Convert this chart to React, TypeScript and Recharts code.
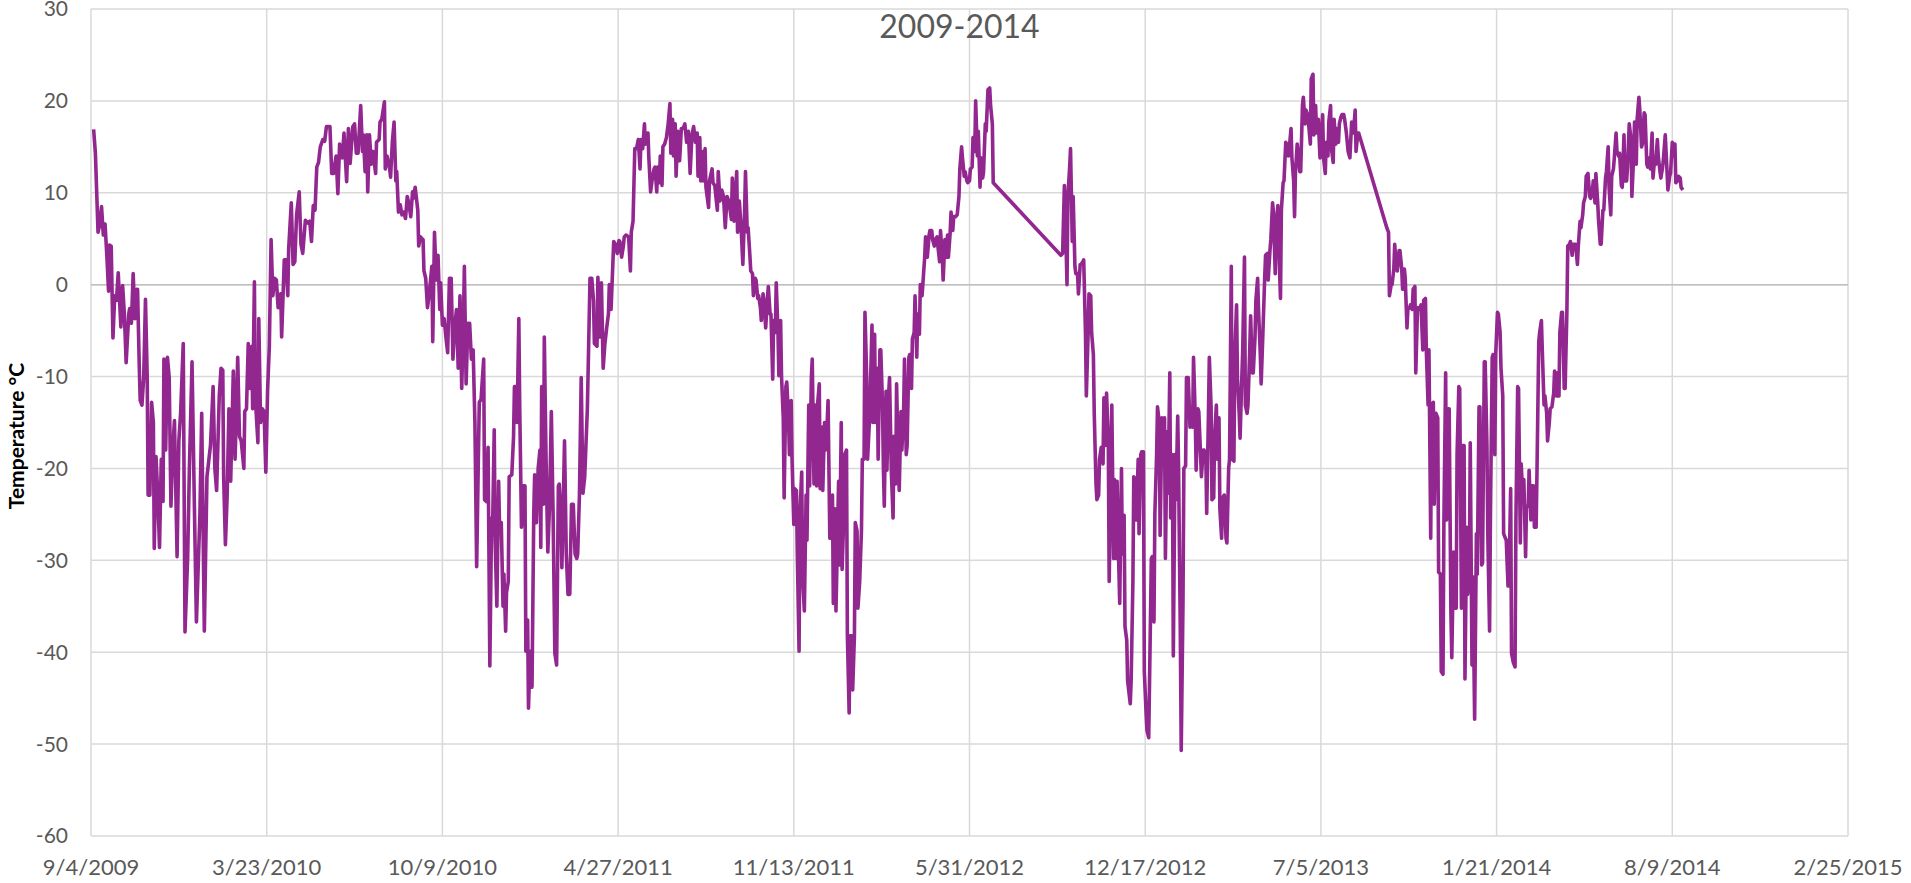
import React from "react";
import {
  LineChart,
  Line,
  XAxis,
  YAxis,
  CartesianGrid,
  ReferenceLine,
} from "recharts";

// day offsets from 9/4/2009, daily temperature in °C
const fall2009: [number, number][] = [
  [3, 16.9], [5, 14.3], [8, 5.7], [10, 6.6], [12, 8.5], [14, 5.4], [16, 6.6], [18, 3.2], [20, -0.7], [21, 4.3],
  [23, 4.2], [25, -5.8], [27, -1.2], [29, -1.7], [31, 1.3], [34, -4.6], [36, -0.1], [38, -3.2], [40, -8.5], [43, -3.2],
  [44, -2.6], [46, -4.2], [48, 1.2], [50, -3.7], [52, -0.5], [53, -0.5], [55, -9.1], [56, -12.6], [58, -13.1], [60, -10.1],
  [62, -1.6], [64, -10.1], [65, -22.9], [67, -22.9], [69, -12.8], [71, -15], [72, -28.7], [74, -18.7], [76, -22.9], [78, -28.6],
  [80, -19], [82, -23.6], [83, -8.1], [85, -18], [87, -7.9], [89, -10.1], [91, -24.1], [93, -18], [95, -14.8], [98, -29.6],
  [100, -17], [102, -14], [105, -6.4], [107, -37.8], [110, -29.8], [112, -20], [115, -8.4], [118, -25.9], [120, -36.7], [124, -24.9],
  [126, -14], [129, -37.7], [132, -20.9], [134, -19.2], [136, -17.5], [139, -11.1], [141, -20], [143, -22.4], [146, -12.1], [148, -9.1],
  [150, -9.3], [151, -20.9], [153, -28.3], [155, -22.9], [157, -13.5], [159, -21.4], [162, -9.4], [164, -19], [165, -15.5], [167, -7.9],
  [169, -16.5], [171, -17], [174, -20], [175, -13.8], [177, -13.5], [179, -6.4], [181, -11.3], [183, -6.7], [184, -13.5], [186, 0.3],
  [187, -12.3], [190, -17.2], [191, -3.7], [193, -15], [195, -13.5], [197, -13.8], [199, -20.4], [201, -11.6], [203, -6.7], [205, 4.9],
  [207, -1.2], [209, 0.7], [211, 0.5], [213, -2.5], [216, -1], [217, -5.7], [220, 2.7], [222, 2.7], [224, -1.2], [225, 3.9],
  [228, 8.9], [230, 2.2], [232, 2.5], [234, 7.6], [237, 10.1], [239, 4.4], [241, 3.4], [244, 7], [247, 6.7], [249, 6.9],
  [251, 4.7], [253, 8.6], [255, 8.1], [257, 12.8], [259, 13.3], [261, 15], [264, 15.8], [266, 15.6], [268, 17.2], [272, 17.2],
  [274, 12.1], [276, 12.1], [279, 14], [281, 9.9], [283, 15.3], [286, 13.8], [288, 16.5], [291, 11.2], [293, 17], [295, 13.2],
  [298, 17.2],
];

const year2010: [number, number][] = [
  [300, 17.5], [302, 14.3], [304, 14.3], [307, 19.5], [309, 14.5], [310, 16.3], [312, 12.3], [314, 16.3], [315, 10.1], [317, 16.3],
  [319, 13.1], [321, 14.5], [324, 12.1], [325, 15.5], [328, 15.8], [329, 17.7], [331, 18], [334, 19.9], [335, 12.6], [337, 14],
  [340, 12.6], [341, 11.7], [343, 15.5], [345, 17.7], [347, 11.3], [348, 12.3], [350, 7.9], [352, 8.7], [354, 7.6], [356, 7.9],
  [358, 7.2], [360, 9.6], [362, 8.7], [364, 7.4], [366, 10.1], [367, 9.4], [369, 10.6], [372, 8.1], [373, 4.2], [375, 5.2],
  [378, 4.9], [379, 1.5], [381, 0.7], [383, -2.5], [385, -1], [388, 2], [389, -6.2], [391, 5.7], [393, 0.5], [395, 3.2],
  [397, -2.7], [398, 0.2], [400, -4.4], [402, -3.7], [404, -5.7], [406, -7.4], [408, 0.7], [410, 0.7], [412, -8.1], [414, -4.7],
  [416, -2.7], [418, -9.1], [420, -1.2], [422, -11.3], [424, -3.7], [425, 2], [427, -10.8], [429, -4.2], [431, -4.2], [433, -8.1],
  [435, -7.1], [437, -15], [439, -30.7], [441, -18.5], [442, -12.8], [444, -12.5], [447, -8.1], [448, -23.4], [450, -23.6], [452, -17.7],
  [454, -41.5], [456, -25.4], [457, -27.3], [459, -15.8], [460, -27.8], [462, -35], [464, -21.4], [465, -26.1], [467, -25.9], [469, -35],
  [470, -31.5], [472, -37.7], [473, -33.5], [475, -32.3], [476, -20.9], [479, -20.7], [481, -16.5], [482, -11.1], [484, -11.1], [485, -15],
  [487, -3.7], [488, -13.1], [490, -26.4], [492, -21.9], [494, -21.9], [495, -39.9], [497, -36.5], [498, -46.1], [500, -39.9], [502, -43.8],
  [504, -24.9], [505, -20.7], [507, -25.9], [509, -20], [511, -18], [512, -28.6], [513, -11.1], [515, -23.9], [516, -5.7], [518, -19],
  [520, -29.1], [522, -23.9], [524, -13.8], [526, -24.9], [528, -40.1], [530, -41.4], [532, -21.9], [533, -21.7], [535, -25.4], [536, -30.8],
  [538, -21.9], [539, -17], [541, -29.3], [543, -33.7], [545, -33.7], [547, -23.9], [549, -23.9], [551, -29.3], [553, -29.8], [554, -29.3],
  [556, -22.9], [558, -10.1], [560, -22.7], [562, -20.9], [565, -13.5], [567, -4.2], [568, 0.7], [570, 0.7], [572, -1.7], [573, -6.4],
  [576, -6.7], [577, 0.8], [579, -5.7], [581, 0.2], [583, -9.1], [585, -6.4], [587, -4.7], [589, -3.2], [590, 0], [592, -2.7],
  [595, 4.7], [597, 4.4], [599, 3.4], [601, 4.8],
];

const year2011: [number, number][] = [
  [602, 4.7], [604, 3], [606, 4.2], [607, 5.2], [609, 5.4], [612, 5.2], [614, 1.5], [615, 5.7], [617, 6.9], [619, 14.8],
  [621, 14.8], [623, 15.8], [625, 12.6], [626, 15.8], [628, 14.8], [630, 17.5], [631, 15.3], [634, 16.5], [635, 13.8], [637, 10.1],
  [639, 11.6], [641, 12.6], [642, 12.8], [644, 10.1], [645, 12.8], [647, 11.1], [648, 14], [650, 10.8], [651, 15], [653, 15.3],
  [655, 16], [657, 17.5], [659, 19.7], [660, 14.3], [662, 18], [663, 14], [665, 17.5], [666, 11.8], [668, 16.7], [670, 13.5],
  [672, 17], [674, 17], [676, 17.5], [678, 15.5], [680, 16.7], [682, 12.1], [684, 16.3], [686, 17.2], [688, 15.5], [690, 16.5],
  [691, 11.8], [693, 16], [694, 11.3], [696, 14.5], [697, 11.3], [699, 14.8], [700, 10.6], [703, 8.4], [704, 11.3], [707, 12.6],
  [708, 11.1], [710, 10.8], [713, 8.1], [714, 12.3], [716, 9.1], [718, 10.3], [720, 9.6], [722, 6.2], [724, 9.6], [726, 9.1],
  [729, 7.1], [730, 11.6], [732, 6.9], [735, 12.3], [736, 5.7], [738, 9.1], [740, 6.2], [742, 2.2], [744, 8.1], [745, 12.3],
  [747, 5.7], [748, 6.2], [750, 3.2], [751, 1.5], [753, 1.2], [754, -1.2], [756, 0.7], [757, 0.5], [759, -1.5], [760, -1.2],
  [762, -2.5], [763, -3.9], [765, -1], [766, -1.7], [768, -4.7], [770, -1.5], [771, -0.2], [773, -3.2], [774, -3.2], [776, -10.3],
  [777, -3.9], [779, -5.2], [780, 0.2], [782, -5.2], [783, -9.9], [785, -3.9], [786, -9.9], [788, -14.5], [789, -23.2], [791, -11.1],
  [792, -10.6], [794, -14.5], [795, -18.5], [797, -12.6], [798, -19], [800, -26.1], [801, -22.2], [803, -22.4], [804, -29.3], [806, -39.9],
  [807, -24.9], [809, -20.4], [810, -31.8], [812, -35.5], [814, -22.9], [815, -27.8], [817, -13.1], [818, -21.9], [820, -10.1], [821, -8.1],
  [823, -21.7], [824, -13.1], [826, -21.9], [827, -13.1], [829, -10.8], [830, -22.2], [832, -15.5], [833, -22.4], [835, -15], [836, -18],
  [838, -15], [839, -12.6], [841, -27.6], [842, -27.6], [844, -22.9], [845, -34.7], [847, -24.4], [848, -35.5], [851, -21.4], [852, -30.5],
  [854, -15], [855, -31], [857, -24.9], [858, -18.5], [860, -18], [861, -38.2], [863, -46.6], [864, -38.2], [866, -38.2], [867, -44.1],
  [869, -38.2], [870, -25.9], [872, -26.8], [873, -35.2], [875, -32.3], [877, -26.8], [878, -19], [880, -19], [881, -3], [883, -10.1],
  [884, -19], [886, -15], [887, -12.1], [889, -4.4], [890, -15], [892, -5.4], [893, -15], [895, -9.1], [896, -19], [898, -7.1],
  [899, -7.1], [901, -13.1], [902, -20],
];

const year2012: [number, number][] = [
  [903, -24.1], [905, -11.6], [906, -20.2], [908, -11.8], [909, -10.1], [911, -20.2], [913, -25.4], [914, -16.5], [916, -21.7], [917, -10.8],
  [919, -20], [920, -22.4], [922, -13.8], [923, -18], [925, -13.8], [926, -8.1], [928, -18.5], [929, -17.5], [931, -7.9], [932, -7.6],
  [934, -11.3], [935, -5.9], [937, -5.2], [938, -1.2], [940, -7.9], [941, -3.2], [943, -5.4], [944, 0], [946, -1.2], [947, 0.2],
  [949, 3], [950, 5.2], [952, 3], [954, 5.4], [955, 5.9], [957, 5.9], [958, 4.9], [960, 4.2], [961, 4.9], [963, 5.2],
  [964, 4.2], [966, 2.5], [967, 5.9], [969, 3.2], [970, 0.5], [972, 4.9], [973, 3], [975, 5.4], [976, 3], [978, 5.7],
  [979, 7.9], [981, 5.9], [982, 7.4], [984, 7.4], [986, 7.6], [988, 9.6], [989, 12.6], [991, 15], [992, 13.8], [994, 11.8],
  [995, 12.3], [997, 11.3], [998, 11.1], [1000, 11.3], [1001, 12.6], [1003, 12.8], [1004, 16], [1006, 14.5], [1007, 20], [1009, 14],
  [1010, 16.7], [1012, 10.6], [1013, 13.8], [1015, 11.6], [1016, 12.3], [1018, 17.5], [1019, 16.7], [1021, 21.2], [1023, 21.4], [1024, 19.5],
  [1026, 17.5], [1027, 11.1],
  // no readings until late October 2012
  [1104, 3.2], [1106, 3.4], [1108, 10.8], [1109, 8.1], [1111, 0], [1112, 9.6], [1114, 12.8], [1115, 14.8], [1117, 4.7], [1118, 9.6],
  [1120, 2], [1121, 1.2], [1123, 1.2], [1124, -1], [1126, 2.2], [1127, 2.2], [1129, 2.5], [1130, 2.7], [1132, -5.2], [1133, -12.1],
  [1135, -5.4], [1136, -1], [1138, -1.2], [1139, -5.2], [1141, -7.6], [1142, -14], [1144, -21.7], [1145, -23.4], [1147, -22.9], [1148, -19],
  [1150, -17.7], [1152, -19.5], [1153, -12.3], [1155, -17.5], [1156, -11.8], [1158, -17], [1159, -32.3], [1161, -19], [1162, -13.1], [1164, -29.8],
  [1165, -21.2], [1167, -29.8], [1168, -21.4], [1170, -30.8], [1171, -34.7], [1173, -20], [1174, -29.3], [1176, -25.1], [1177, -37.2], [1179, -38.7],
  [1180, -43.1], [1183, -45.6], [1184, -43.1], [1186, -32.3], [1187, -20.9], [1189, -21.2], [1190, -25.6], [1192, -19], [1193, -27.1], [1195, -18.5],
  [1196, -18.2], [1198, -18.2], [1199, -42.1], [1201, -46.6], [1202, -48.5], [1204, -49.3],
];

const year2013: [number, number][] = [
  [1207, -29.8], [1208, -29.6], [1210, -36.7], [1211, -24.9], [1213, -18.5], [1214, -13.3], [1216, -15], [1217, -27.3], [1219, -14.5], [1220, -17.5],
  [1222, -14.5], [1223, -29.8], [1225, -16], [1226, -22.7], [1228, -9.6], [1229, -25.4], [1231, -18.5], [1232, -40.4], [1234, -18.5], [1235, -23.4],
  [1237, -14.3], [1238, -20], [1240, -38.2], [1241, -50.7], [1243, -34.7], [1244, -20], [1246, -19.7], [1247, -10.1], [1249, -10.1], [1251, -15.5],
  [1252, -15], [1254, -15.5], [1255, -7.9], [1257, -14.5], [1258, -20.2], [1260, -13.5], [1261, -13.8], [1263, -18.5], [1264, -20.9], [1266, -18],
  [1267, -18], [1269, -18.5], [1270, -24.9], [1272, -14], [1273, -7.9], [1275, -13.3], [1276, -23.4], [1278, -23.2], [1279, -16.5], [1281, -13.1],
  [1282, -19], [1284, -14.5], [1285, -24.4], [1287, -27.6], [1288, -23.2], [1290, -22.9], [1292, -27.6], [1293, -28.1], [1295, -20], [1296, -19],
  [1298, 2], [1299, -19], [1301, -19.2], [1302, -7.6], [1304, -2.2], [1305, -10.1], [1307, -14], [1308, -16.7], [1310, -10.1], [1311, -7.1],
  [1313, 3], [1314, -13.1], [1316, -14], [1317, -13.1], [1319, -7.1], [1320, -3.4], [1322, -9.6], [1323, -9.6], [1325, -5.7], [1326, -1.7],
  [1328, 0.7], [1329, -2.7], [1331, -7.6], [1332, -10.8], [1334, -5.2], [1336, 0.7], [1337, 3.2], [1339, 3.4], [1340, 0.5], [1342, 3.7],
  [1343, 4.9], [1345, 8.9], [1346, 7.9], [1348, 1.2], [1349, 6.2], [1351, 8.6], [1352, 4.2], [1354, -1.5], [1355, 8.1], [1357, 11.1],
  [1358, 11.3], [1360, 15.5], [1361, 15.3], [1363, 14], [1364, 14.8], [1366, 17], [1367, 13.8], [1369, 11.3], [1370, 7.4], [1371, 12.1],
  [1373, 15.3], [1374, 14.5], [1376, 12.3], [1377, 12.3], [1379, 19.5], [1380, 20.4], [1382, 17.5], [1383, 19], [1385, 18.5], [1386, 17.5],
  [1388, 15.3], [1389, 22.4], [1391, 22.9], [1392, 16.3], [1394, 19.5], [1395, 16.5], [1397, 18], [1399, 13.8], [1400, 15.8], [1402, 18.5],
  [1403, 13.8], [1405, 12.1], [1406, 15.5], [1408, 14], [1409, 17.7], [1411, 19.5], [1412, 14.8], [1414, 13.3], [1415, 18], [1417, 15.3],
  [1418, 17], [1420, 15.5], [1421, 17.5], [1423, 18.3], [1424, 18.5], [1426, 18.5], [1427, 18], [1429, 16.5], [1431, 14.5], [1433, 13.8],
  [1435, 17.7], [1437, 16.5], [1439, 19], [1440, 14.5], [1442, 16.5], [1443, 16.5],
  // no readings for about a month
  [1475, 6.2], [1477, 5.7], [1478, -1.2], [1480, 0], [1481, 0], [1483, 1.7], [1484, 4.4], [1486, 1.7], [1487, 1.5], [1489, 3.7],
  [1490, 3.7], [1492, 1.7], [1493, -0.5], [1495, 1.7], [1496, 0.7], [1498, -4.7], [1499, -2.7], [1501, -2.5], [1502, -2.2], [1504, -2.7],
  [1505, -0.5],
];

const year2014: [number, number][] = [
  [1507, -0.2], [1508, -9.6], [1510, -2.5], [1511, -2.7], [1513, -2.5], [1514, -2.2], [1516, -7.1], [1517, -1.7], [1519, -1.5], [1520, -7.1],
  [1522, -13.1], [1523, -7.1], [1525, -27.6], [1526, -13.1], [1528, -12.8], [1529, -23.9], [1531, -14], [1533, -14.5], [1534, -31.3], [1536, -31.5],
  [1537, -42.1], [1539, -42.4], [1540, -25.9], [1542, -9.6], [1543, -25.6], [1545, -13.5], [1546, -13.5], [1548, -35.7], [1549, -40.6], [1551, -29.1],
  [1552, -35.2], [1554, -35.2], [1555, -18.5], [1557, -11.1], [1558, -11.3], [1560, -35.2], [1561, -17.5], [1563, -17.5], [1564, -42.9], [1566, -26.4],
  [1567, -33.7], [1569, -31.3], [1570, -17.2], [1572, -41.4], [1573, -31.8], [1575, -47.3], [1577, -27.1], [1578, -31.5], [1580, -13.3], [1581, -13.3],
  [1583, -30.5], [1584, -30.3], [1586, -8.4], [1587, -8.4], [1589, -17.5], [1590, -27.3], [1592, -37.7], [1593, -24.9], [1595, -7.9], [1596, -7.6],
  [1598, -18.5], [1599, -7.6], [1601, -3], [1602, -3.2], [1604, -5.2], [1605, -9.1], [1607, -12.1], [1608, -27.1], [1610, -27.6], [1611, -27.8],
  [1613, -32.8], [1614, -32.8], [1616, -22.2], [1617, -40.1], [1619, -41.1], [1621, -41.6], [1622, -25.6], [1624, -11.1], [1625, -11.3], [1627, -28.1],
  [1628, -19.5], [1630, -23.4], [1631, -21.2], [1633, -29.6], [1634, -24.1], [1636, -24.1], [1637, -20.2], [1639, -25.6], [1640, -21.9], [1642, -21.9],
  [1643, -26.4], [1645, -26.4], [1646, -20.2], [1648, -6.2], [1649, -5.2], [1651, -3.9], [1652, -7.1], [1654, -13.1], [1655, -12.1], [1657, -14],
  [1658, -17], [1660, -15], [1661, -13.5], [1663, -13.3], [1665, -11.8], [1666, -9.4], [1668, -12.1], [1669, -9.6], [1671, -12.1], [1672, -5.2],
  [1674, -3], [1675, -3], [1677, -11.3], [1678, -11.3], [1680, -3], [1681, 4.2], [1683, 4.4], [1684, 4.7], [1686, 3.2], [1687, 4.4],
  [1689, 4.4], [1690, 4.4], [1692, 2.2], [1693, 4.2], [1695, 6.9], [1696, 6.2], [1698, 7.6], [1699, 8.9], [1701, 9.6], [1702, 11.8],
  [1704, 12.1], [1706, 9.6], [1707, 9.4], [1709, 10.1], [1710, 11.3], [1712, 8.9], [1713, 12.1], [1715, 9.1], [1716, 7.1], [1718, 4.4],
  [1719, 4.4], [1721, 8.1], [1722, 8.1], [1724, 11.6], [1725, 12.3], [1727, 15], [1728, 10.6], [1730, 7.6], [1731, 11.8], [1733, 12.6],
  [1734, 13.8], [1736, 16.5], [1737, 14.5], [1739, 14], [1740, 14.3], [1742, 10.8], [1743, 10.6], [1745, 16.3], [1746, 11.3], [1748, 11.3],
  [1749, 12.8], [1751, 17.5], [1753, 15.8], [1754, 9.6], [1756, 14], [1757, 17.7], [1759, 13.1], [1760, 18], [1762, 20.4], [1763, 19],
  [1765, 15], [1766, 15.3], [1768, 18.7], [1769, 18.5], [1771, 13.1], [1772, 12.8], [1774, 13.8], [1775, 12.6], [1777, 16.5], [1778, 11.6],
  [1780, 13.8], [1781, 13.1], [1783, 15.8], [1784, 14], [1786, 12.3], [1787, 11.6], [1789, 12.8], [1790, 13.8], [1792, 16.3], [1793, 14.3],
  [1795, 10.3], [1797, 11.8], [1798, 12.1], [1800, 15.5], [1801, 14], [1803, 15.3], [1804, 11.1], [1806, 11.3], [1807, 11.8], [1809, 11.6],
  [1810, 10.6], [1812, 10.3],
];

const tickDays = [0, 200, 400, 600, 800, 1000, 1200, 1400, 1600, 1800, 2000];
const tickLabels = [
  "9/4/2009", "3/23/2010", "10/9/2010", "4/27/2011", "11/13/2011", "5/31/2012",
  "12/17/2012", "7/5/2013", "1/21/2014", "8/9/2014", "2/25/2015",
];
const tempTicks = [-60, -50, -40, -30, -20, -10, 0, 10, 20, 30];

const series = [...fall2009, ...year2010, ...year2011, ...year2012, ...year2013, ...year2014].map(
  ([day, temp]) => ({ day, temp })
);

const FONT = "Lato, 'Open Sans', sans-serif";
const TEXT = "#595959";

export default function App() {
  return (
    <div style={{ position: "absolute", left: 0, top: 0, width: 1911, height: 883, background: "#fff", fontFamily: FONT }}>
      <LineChart width={1911} height={883} data={series} margin={{ top: 9, right: 63, bottom: 0, left: 0 }}>
        <CartesianGrid stroke="#d9d9d9" strokeWidth={1.5} />
        <XAxis
          dataKey="day"
          type="number"
          domain={[0, 2000]}
          ticks={tickDays}
          interval={0}
          tickFormatter={(d: number) => tickLabels[tickDays.indexOf(d)]}
          axisLine={false}
          tickLine={false}
          tickMargin={17}
          height={47}
          tick={{ fontSize: 22, fill: TEXT, fontFamily: FONT }}
        />
        <YAxis
          type="number"
          domain={[-60, 30]}
          ticks={tempTicks}
          interval={0}
          axisLine={false}
          tickLine={false}
          tickMargin={17}
          width={91}
          tick={{ fontSize: 21, fill: TEXT, fontFamily: FONT }}
        />
        <ReferenceLine y={0} stroke="#bfbfbf" strokeWidth={1.5} />
        <Line
          type="linear"
          dataKey="temp"
          stroke="#92278f"
          strokeWidth={3.6}
          strokeLinejoin="round"
          dot={false}
          isAnimationActive={false}
        />
      </LineChart>
      <div
        style={{
          position: "absolute",
          left: 4,
          top: 10,
          width: 1911,
          textAlign: "center",
          fontSize: 32,
          lineHeight: "32px",
          color: TEXT,
        }}
      >
        2009-2014
      </div>
      <div
        style={{
          position: "absolute",
          left: 16 - 150,
          top: 436 - 13,
          width: 300,
          height: 26,
          lineHeight: "26px",
          textAlign: "center",
          fontSize: 21,
          fontWeight: 700,
          color: "#000",
          transform: "rotate(-90deg)",
        }}
      >
        Temperature °C
      </div>
    </div>
  );
}
